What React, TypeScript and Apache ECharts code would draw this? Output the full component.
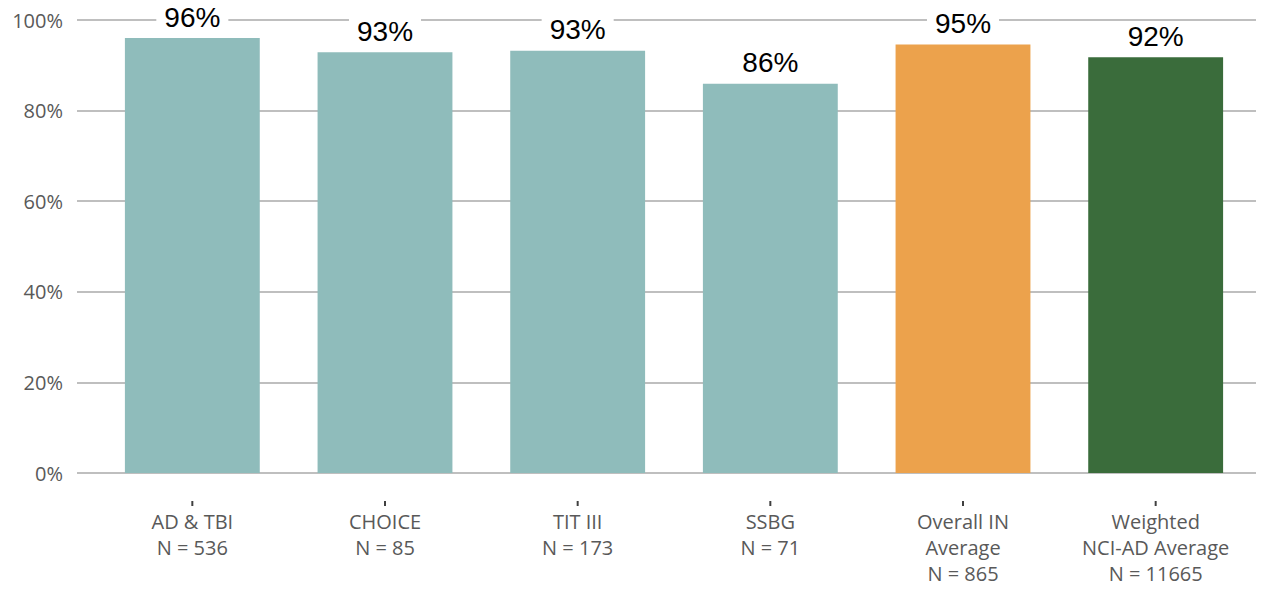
import React, { useEffect, useRef } from "react";
import * as echarts from "echarts";

const categories = [
  "AD & TBI\nN = 536",
  "CHOICE\nN = 85",
  "TIT III\nN = 173",
  "SSBG\nN = 71",
  "Overall IN\nAverage\nN = 865",
  "Weighted\nNCI-AD Average\nN = 11665",
];
const values = [96, 92.9, 93.2, 85.9, 94.6, 91.8];
const barColors = ["#8fbcbb", "#8fbcbb", "#8fbcbb", "#8fbcbb", "#eca24c", "#3a6c3b"];
const yTicks = [0, 20, 40, 60, 80, 100];

export default function App() {
  const ref = useRef<HTMLDivElement>(null);
  useEffect(() => {
    if (!ref.current) return;
    const chart = echarts.init(ref.current, null, { renderer: "svg" });
    chart.setOption({
      animation: false,
      grid: [
        { left: 77, right: 16, top: 20, bottom: 116 },
        { left: 96, right: 20, top: 20, bottom: 116 },
      ],
      xAxis: [
        { type: "category", gridIndex: 0, data: categories, show: false },
        {
          type: "category",
          gridIndex: 1,
          data: categories,
          axisLine: { show: false },
          axisTick: { show: false },
          axisLabel: {
            interval: 0,
            margin: 26,
            formatter: (v: string) => "{t| }\n" + v.split("\n").map((s) => "{a|" + s + "}").join("\n"),
            rich: {
              t: { fontSize: 5, width: 2, height: 5, lineHeight: 9, backgroundColor: "#404040", fontFamily: "Liberation Sans" },
              a: { fontSize: 20, color: "#595959", lineHeight: 26, fontFamily: "Open Sans" },
            },
          },
        },
      ],
      yAxis: [
        {
          type: "value",
          gridIndex: 0,
          min: yTicks[0],
          max: yTicks[yTicks.length - 1],
          interval: 20,
          axisLine: { show: false },
          axisTick: { show: false },
          axisLabel: {
            formatter: "{value}%",
            fontSize: 20,
            color: "#595959",
            fontFamily: "Open Sans",
            margin: 14,
          },
          splitLine: { lineStyle: { color: "#bfbfbf", width: 2 } },
        },
        {
          type: "value",
          gridIndex: 1,
          min: 0,
          max: 100,
          interval: 20,
          show: false,
          splitLine: { show: false },
        },
      ],
      series: [
        {
          type: "bar",
          xAxisIndex: 1,
          yAxisIndex: 1,
          barCategoryGap: "30%",
          data: values.map((v, i) => ({ value: v, itemStyle: { color: barColors[i] } })),
          label: {
            show: true,
            position: "top",
            distance: 6,
            formatter: (p: any) => Math.round(p.value) + "%",
            fontSize: 28,
            color: "#000",
            fontFamily: "Liberation Sans",
            backgroundColor: "#fff",
            padding: [1, 8, 1, 8],
          },
          z: 3,
        },
      ],
    });
    return () => chart.dispose();
  }, []);
  return <div ref={ref} style={{ width: 1272, height: 589, position: "absolute", left: 0, top: 0 }} />;
}
